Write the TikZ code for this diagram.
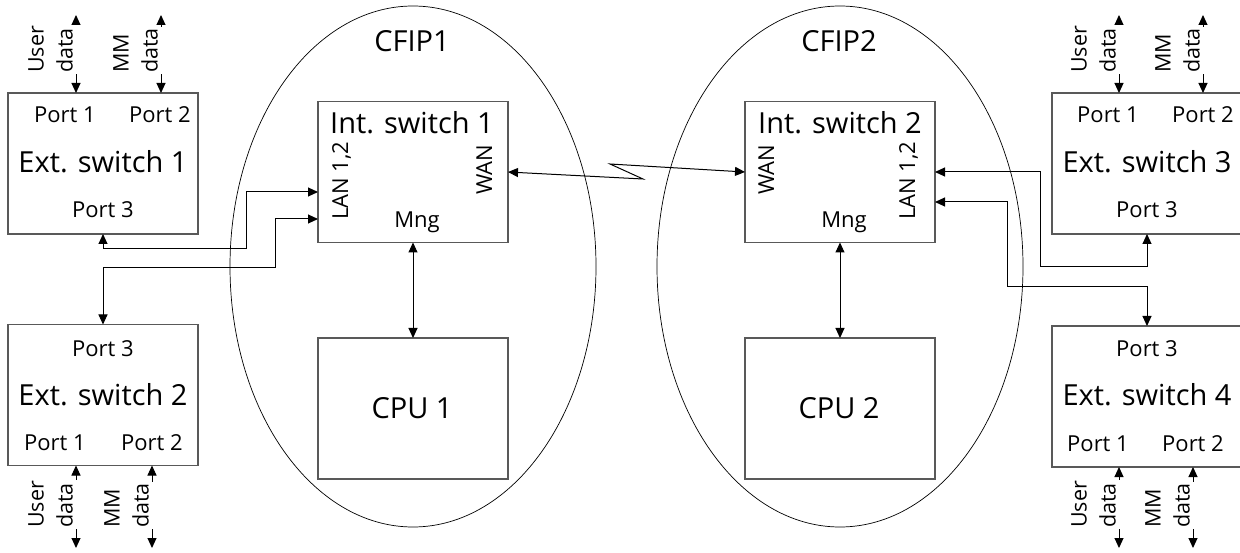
\documentclass[tikz,border=0pt]{standalone}
\usepackage{fontspec}
\setmainfont{Open Sans}
\usetikzlibrary{arrows.meta,shapes.geometric,calc}
\begin{document}
\begin{tikzpicture}[x=1pt,y=-1pt,
 box/.style={draw=black!65, line width=1.1pt, minimum width=190pt, minimum height=141pt, inner sep=0pt, outer sep=0pt},
 sm/.style={font=\fontsize{22}{29}\selectfont, inner sep=0pt, anchor=base},
 big/.style={font=\fontsize{29}{34}\selectfont, inner sep=0pt, anchor=base},
 rot/.style={sm, rotate=90, anchor=base west},
 link/.style={line width=1pt, {Triangle[length=10pt,width=9pt]}-{Triangle[length=10pt,width=9pt]}},
 dlabel/.style={font=\fontsize{21.5}{29}\selectfont, rotate=90, align=left, fill=white, inner xsep=1pt, inner ysep=4pt, anchor=south west},
 cfip/.style={draw, ellipse, line width=0.7pt, minimum width=366pt, minimum height=521pt, inner sep=0pt}
]
\useasboundingbox (0,0) rectangle (1240,553);
% CFIP ellipses
\node[cfip] (cfip1) at (413,266.5) {};
\node[cfip] (cfip2) at (840,266.5) {};
\node[big] (cfip1t) at (412,52) {CFIP1};
\node[big] (cfip2t) at (839,52) {CFIP2};
% boxes
\node[box] (es1) at (103,163.5) {};
\node[box] (es2) at (103,395) {};
\node[box] (es3) at (1147,163.5) {};
\node[box] (es4) at (1147,396.5) {};
\node[box] (is1) at (413,172) {};
\node[box] (is2) at (840,172) {};
\node[box] (cpu1) at (413,408.5) {};
\node[box] (cpu2) at (840,408.5) {};
% ES1 texts
\node[sm] (es1p1) at (65,123) {Port 1};
\node[sm] (es1p2) at (160,123) {Port 2};
\node[big] (es1t) at (103,173) {Ext. switch 1};
\node[sm] (es1p3) at (103,218) {Port 3};
% ES2 texts
\node[sm] (es2p3) at (103,356) {Port 3};
\node[big] (es2t) at (103,406) {Ext. switch 2};
\node[sm] (es2p1) at (55,450) {Port 1};
\node[sm] (es2p2) at (152,450) {Port 2};
% ES3 texts
\node[sm] (es3p1) at (1108,123) {Port 1};
\node[sm] (es3p2) at (1203,123) {Port 2};
\node[big] (es3t) at (1147,173) {Ext. switch 3};
\node[sm] (es3p3) at (1147,218) {Port 3};
% ES4 texts
\node[sm] (es4p3) at (1147,356) {Port 3};
\node[big] (es4t) at (1147,406) {Ext. switch 4};
\node[sm] (es4p1) at (1098,451) {Port 1};
\node[sm] (es4p2) at (1193,451) {Port 2};
% IS1 texts
\node[big] (is1t) at (412,134) {Int. switch 1};
\node[rot] (is1lan) at (348,220) {LAN 1,2};
\node[rot] (is1wan) at (492,195) {WAN};
\node[sm] (is1mng) at (417,228) {Mng};
% IS2 texts
\node[big] (is2t) at (840,134) {Int. switch 2};
\node[rot] (is2wan) at (774,195) {WAN};
\node[rot] (is2lan) at (915,220) {LAN 1,2};
\node[sm] (is2mng) at (844,228) {Mng};
% CPU texts
\node[big] (cpu1t) at (412,418) {CPU 1};
\node[big] (cpu2t) at (839,418) {CPU 2};
% data arrows
\coordinate (u1) at (76,15);
\coordinate (m1) at (161,15);
\coordinate (u2) at (76,548);
\coordinate (m2) at (152,548);
\coordinate (u3) at (1119,15);
\coordinate (m3) at (1203,15);
\coordinate (u4) at (1119,548);
\coordinate (m4) at (1193,548);
\draw[link] (u1) -- (u1 |- es1.north);
\draw[link] (m1) -- (m1 |- es1.north);
\draw[link] (u2 |- es2.south) -- (u2);
\draw[link] (m2 |- es2.south) -- (m2);
\draw[link] (u3) -- (u3 |- es3.north);
\draw[link] (m3) -- (m3 |- es3.north);
\draw[link] (u4 |- es4.south) -- (u4);
\draw[link] (m4 |- es4.south) -- (m4);
\node[dlabel] (l1u) at (77,74) {User\\data};
\node[dlabel] (l1m) at (162,74) {MM\\data};
\node[dlabel] (l2u) at (77,529) {User\\data};
\node[dlabel] (l2m) at (153,529) {MM\\data};
\node[dlabel] (l3u) at (1120,74) {User\\data};
\node[dlabel] (l3m) at (1204,74) {MM\\data};
\node[dlabel] (l4u) at (1120,529) {User\\data};
\node[dlabel] (l4m) at (1194,529) {MM\\data};
% port 3 links
\coordinate (k1) at (246,249);
\coordinate (k2) at (275,268);
\coordinate (k3) at (1040,267);
\coordinate (k4) at (1007,287);
\draw[link] (es1.south) |- (k1) |- ($(is1.west)+(0,20)$);
\draw[link] (es2.north) |- (k2) |- ($(is1.west)+(0,47)$);
\draw[link] (es3.south) |- (k3) |- (is2.east);
\draw[link] (es4.north) |- (k4) |- ($(is2.east)+(0,30)$);
% Mng links
\draw[link] (is1.south) -- (cpu1.north);
\draw[link] (is2.south) -- (cpu2.north);
% WAN link
\coordinate (w1) at (643,179);
\coordinate (w2) at (610,164);
\draw[link] (is1.east) -- (w1) -- (w2) -- (is2.west);
\end{tikzpicture}
\end{document}
